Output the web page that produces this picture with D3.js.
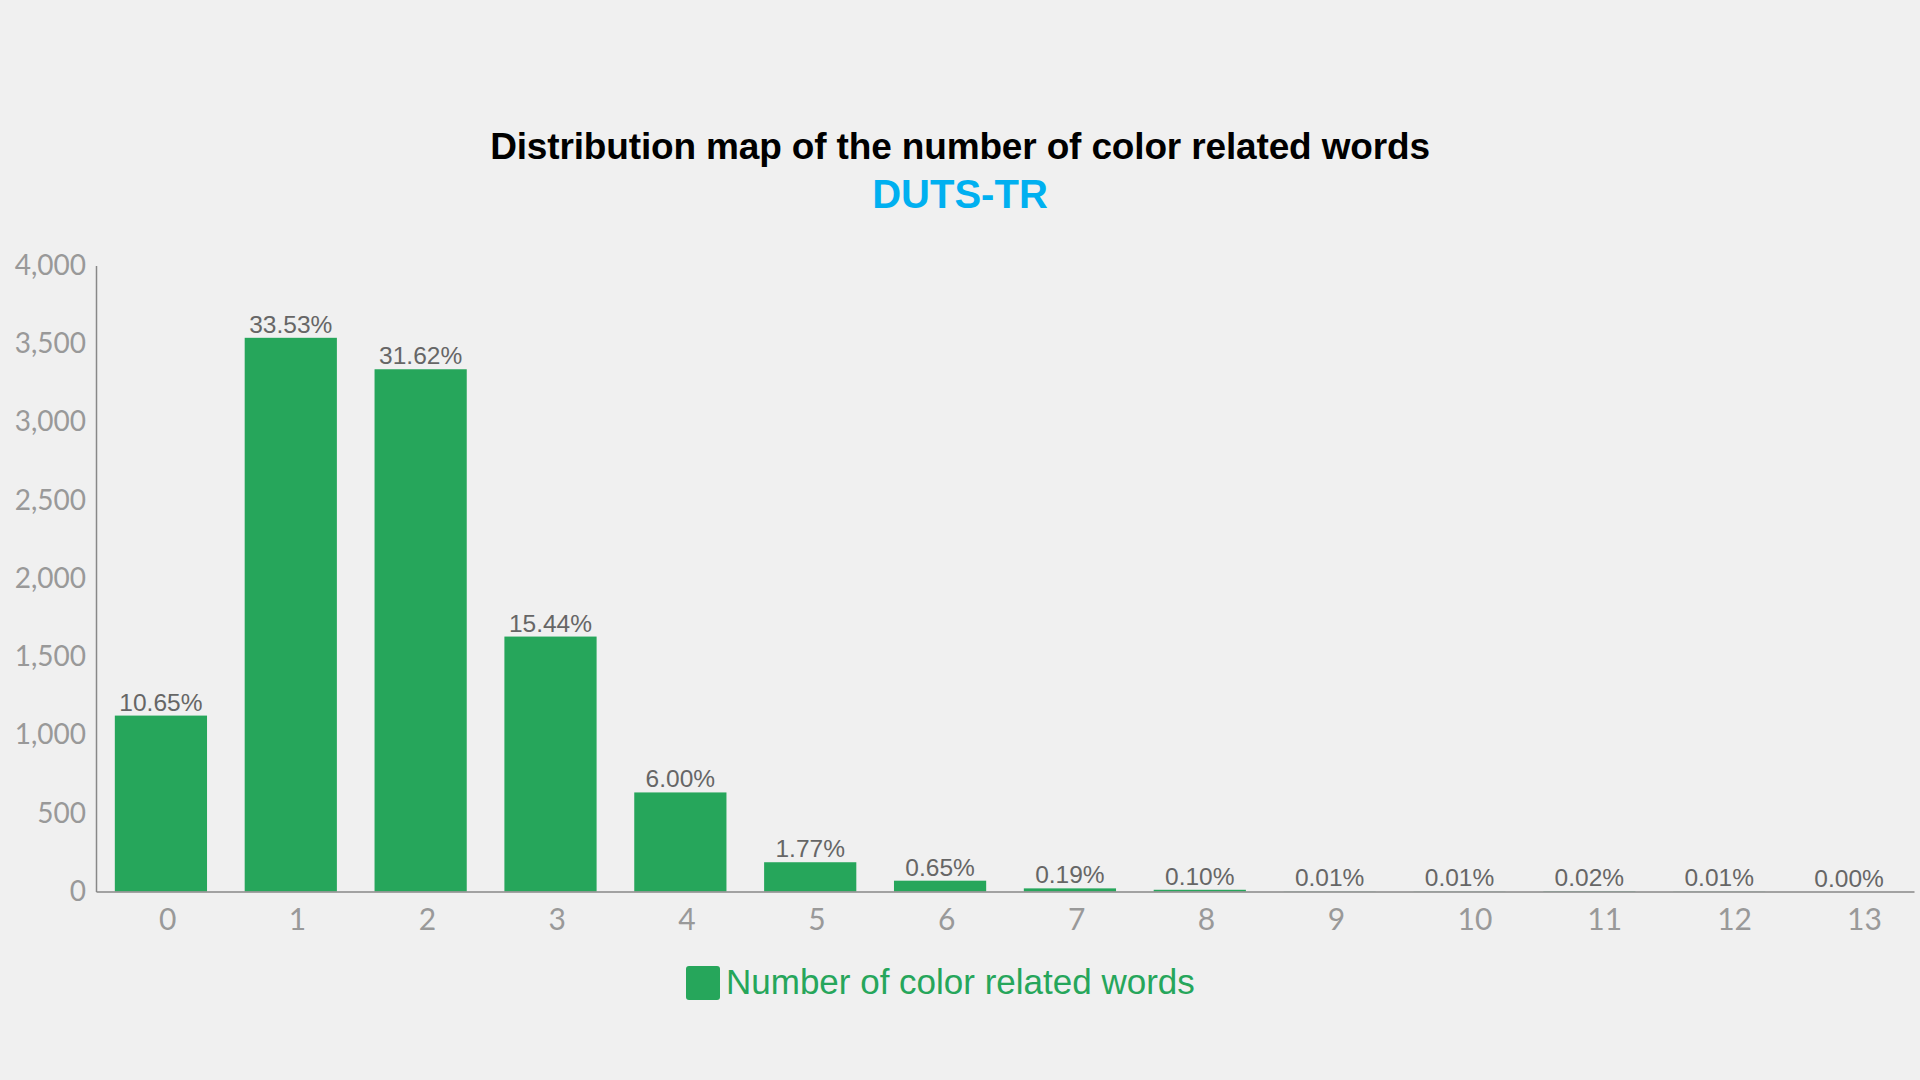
<!DOCTYPE html>
<html>
<head>
<meta charset="utf-8">
<script src="https://cdn.jsdelivr.net/npm/d3@7"></script>
<style>
  html, body { margin: 0; padding: 0; background: #f0f0f0; }
  svg { display: block; }
</style>
</head>
<body>
<svg id="chart" width="1920" height="1080"></svg>
<script>
const categories = ["0","1","2","3","4","5","6","7","8","9","10","11","12","13"];
const counts = [1124, 3538, 3337, 1629, 633, 187, 69, 20, 11, 1, 1, 2, 1, 0];
const percentLabels = ["10.65%","33.53%","31.62%","15.44%","6.00%","1.77%","0.65%","0.19%","0.10%","0.01%","0.01%","0.02%","0.01%","0.00%"];
const yTicks = [0, 500, 1000, 1500, 2000, 2500, 3000, 3500, 4000];
const titleText = "Distribution map of the number of color related words";
const subtitleText = "DUTS-TR";
const seriesName = "Number of color related words";

(function () {
const svg = d3.select("#chart");
const W = 1920, H = 1080;
const mLeft = 96, mRight = 1914, mTop = 265.5, mBottom = 891.5;
const barColor = "#26a65b";

svg.append("rect").attr("width", W).attr("height", H).attr("fill", "#f0f0f0");

const x = d3.scaleBand().domain(categories).range([mLeft, mRight]).paddingInner(0.29).paddingOuter(0.145);
const y = d3.scaleLinear().domain([0, 4000]).range([mBottom, mTop]);

// title
svg.append("text").attr("x", 960).attr("y", 159).attr("text-anchor", "middle")
  .attr("font-family", "Liberation Sans, Arial, sans-serif").attr("font-weight", "bold")
  .attr("font-size", 37).attr("fill", "#000").attr("letter-spacing", -0.15).text(titleText);
svg.append("text").attr("x", 960).attr("y", 208).attr("text-anchor", "middle")
  .attr("font-family", "Liberation Sans, Arial, sans-serif").attr("font-weight", "bold")
  .attr("font-size", 40).attr("fill", "#00b0f0").text(subtitleText);

// bars
svg.append("g").selectAll("rect").data(counts).join("rect")
  .attr("x", (d, i) => x(categories[i]))
  .attr("y", d => y(d))
  .attr("width", x.bandwidth())
  .attr("height", d => mBottom - y(d))
  .attr("fill", barColor);

// data labels
svg.append("g").selectAll("text").data(counts).join("text")
  .attr("x", (d, i) => x(categories[i]) + x.bandwidth() / 2)
  .attr("y", d => y(d) - 5)
  .attr("text-anchor", "middle")
  .attr("font-family", "Liberation Sans, Arial, sans-serif")
  .attr("font-size", 24.5).attr("fill", "#666")
  .text((d, i) => percentLabels[i]);

// y axis
const yAxis = svg.append("g").attr("transform", `translate(${mLeft},0)`)
  .call(d3.axisLeft(y).tickValues(yTicks).tickSize(0).tickPadding(10).tickFormat(d3.format(",")));
yAxis.select(".domain").attr("stroke", "#888").attr("stroke-width", 1.5);
yAxis.selectAll("text").attr("font-family", "Lato, sans-serif").attr("font-size", 28)
  .attr("fill", "#999");

// x axis
const xAxis = svg.append("g").attr("transform", `translate(0,${mBottom})`)
  .call(d3.axisBottom(x).tickSize(0).tickPadding(17));
xAxis.select(".domain").attr("stroke", "#888").attr("stroke-width", 1.5);
xAxis.selectAll("text").attr("font-family", "Lato, sans-serif").attr("font-size", 30)
  .attr("fill", "#999").attr("text-anchor", "start").attr("dx", -2);

// legend
const lg = svg.append("g");
lg.append("rect").attr("x", 686).attr("y", 966).attr("width", 34).attr("height", 34)
  .attr("rx", 3).attr("fill", barColor);
lg.append("text").attr("x", 726).attr("y", 994)
  .attr("font-family", "Liberation Sans, Arial, sans-serif").attr("font-size", 35)
  .attr("fill", barColor).text(seriesName);
})();
</script>
</body>
</html>
